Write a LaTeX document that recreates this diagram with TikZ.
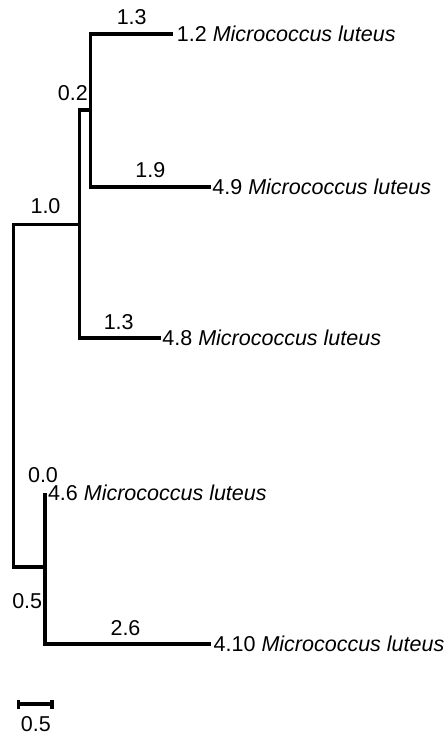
\documentclass[tikz,border=0pt]{standalone}
\usepackage{fontspec}
\setmainfont{Liberation Sans}
\begin{document}
\begin{tikzpicture}[x=1pt,y=-1pt,
  branch/.style={line width=3.6pt, line join=miter, line cap=butt},
  leaf/.style={anchor=west, inner sep=0pt, font=\fontsize{21.5}{25}\selectfont},
  blen/.style={inner sep=0pt, font=\fontsize{21.5}{25}\selectfont}]
\useasboundingbox (0,0) rectangle (445,737);
% coordinates
\coordinate (A12) at (90.3,34);
\coordinate (E12) at (172.7,34);
\coordinate (A49) at (90.3,186.7);
\coordinate (E49) at (210.7,186.7);
\coordinate (N02) at (90.3,110);
\coordinate (N02l) at (79.3,110);
\coordinate (A48) at (79.3,338);
\coordinate (E48) at (160.7,338);
\coordinate (N10) at (79.3,224.5);
\coordinate (R1) at (13.5,224.5);
\coordinate (R2) at (13.5,567);
\coordinate (N3) at (44.7,567);
\coordinate (A46) at (44.7,493.3);
\coordinate (A410) at (44.7,643.7);
\coordinate (E410) at (210.7,643.7);
% branches
\draw[branch] (E12) -- (A12) -- (A49) -- (E49);
\draw[branch] (N02) -- (N02l) -- (A48) -- (E48);
\draw[branch] (N10) -- (R1) -- (R2) -- (N3);
\draw[branch] (A46) -- (A410) -- (E410);
% leaf labels
\node[leaf] (T12) at (176.7,34) {1.2 \textit{Micrococcus luteus}};
\node[leaf] (T49) at (212.2,186.7) {4.9 \textit{Micrococcus luteus}};
\node[leaf] (T48) at (162.2,338) {4.8 \textit{Micrococcus luteus}};
\node[leaf] (T46) at (47.8,493.3) {4.6 \textit{Micrococcus luteus}};
\node[leaf] (T410) at (213.5,643.7) {4.10 \textit{Micrococcus luteus}};
% branch lengths
\node[blen] (b1) at (131.7,17.2) {1.3};
\node[blen] (b2) at (72.8,93.5) {0.2};
\node[blen] (b3) at (150.3,170) {1.9};
\node[blen] (b4) at (45.5,206.3) {1.0};
\node[blen] (b5) at (118.7,322.5) {1.3};
\node[blen] (b6) at (43,475.5) {0.0};
\node[blen] (b7) at (27.2,601.5) {0.5};
\node[blen] (b8) at (125.5,628) {2.6};
% scale bar
\coordinate (S1) at (18.3,704);
\coordinate (S2) at (51.7,704);
\draw[branch] (S1) -- (S2);
\draw[branch] ([yshift=-4.5pt]S1) -- ([yshift=4.5pt]S1);
\draw[branch] ([yshift=-4.5pt]S2) -- ([yshift=4.5pt]S2);
\node[blen] (sl) at (35.8,723.7) {0.5};
\end{tikzpicture}
\end{document}
